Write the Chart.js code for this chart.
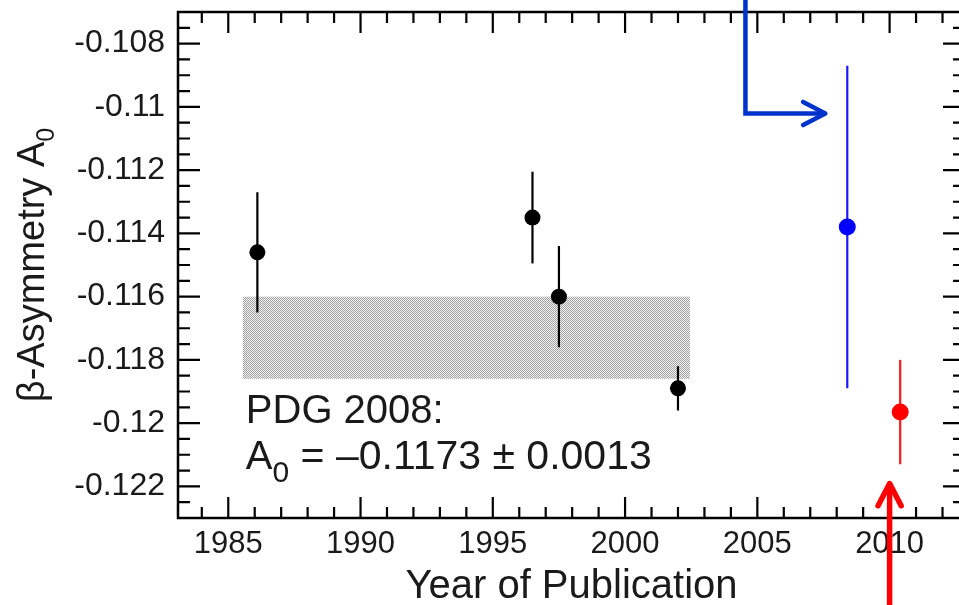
<!DOCTYPE html>
<html><head><meta charset="utf-8">
<script src="https://cdn.jsdelivr.net/npm/chart.js@4/dist/chart.umd.min.js"></script>
<style>
html,body{margin:0;padding:0;background:#fff;overflow:hidden}
#outer{width:959px;height:605px;overflow:hidden;position:relative;background:#fff}
#inner{width:985px;height:605px;position:absolute;left:0;top:0}
</style></head><body>
<div id="outer"><div id="inner"><canvas id="c"></canvas></div></div>
<script>
// ---- data ----
const earlyYears  = [1986.1, 1996.5, 1997.5, 2002.0];
const earlyValues = [-0.1146, -0.1135, -0.1160, -0.1189];
const earlyErrors = [0.0019, 0.00145, 0.0016, 0.0007];
const blueYears  = [2008.4];
const blueValues = [-0.1138];
const blueErrors = [0.0051];
const redYears  = [2010.4];
const redValues = [-0.11965];
const redErrors = [0.00165];
const pdgValue = -0.1173;
const pdgError = 0.0013;
const pdgYears = [1985.55, 2002.45];
const pdgLine1 = 'PDG 2008:';
const pdgLine2 = ' = \u20130.1173 \u00b1 0.0013';
const xTicks = [1985, 1990, 1995, 2000, 2005, 2010];
const xTickLabels = ['1985', '1990', '1995', '2000', '2005', '2010'];
const yTicks = [-0.108, -0.110, -0.112, -0.114, -0.116, -0.118, -0.120, -0.122];
const yTickLabels = ['-0.108', '-0.11', '-0.112', '-0.114', '-0.116', '-0.118', '-0.12', '-0.122'];
const xRange = [1983.1, 2012.85];
const yRange = [-0.123, -0.107];
const xMinorStep = 1;
const yMinorStep = 0.0005;
const xTitle = 'Year of Publication';
const yTitleMain = '\u03b2-Asymmetry A';
const yTitleSub = '0';
const blueArrowX = [2004.55, 2004.55, 2007.57];
const blueArrowY = [-0.1062, -0.11021, -0.11021];
const redArrowX = [2010.0, 2010.0];
const redArrowY = [-0.1262, -0.12191];

const FONT = '"Liberation Sans", Arial, Helvetica, sans-serif';
const TEXT = '#1a1a1a';

function makePattern(ctx) {
  const pc = document.createElement('canvas');
  pc.width = 2; pc.height = 2;
  const g = pc.getContext('2d');
  g.fillStyle = '#f2f2f2'; g.fillRect(0, 0, 2, 2);
  g.fillStyle = '#a2a2a2'; g.fillRect(0, 0, 1, 1); g.fillRect(1, 1, 1, 1);
  return ctx.createPattern(pc, 'repeat');
}

function drawErrorBars(ctx, xs, ys, es, color, xS, yS) {
  ctx.save();
  ctx.strokeStyle = color; ctx.lineWidth = 2.2;
  for (let i = 0; i < xs.length; i++) {
    const px = xS.getPixelForValue(xs[i]);
    ctx.beginPath();
    ctx.moveTo(px, yS.getPixelForValue(ys[i] + es[i]));
    ctx.lineTo(px, yS.getPixelForValue(ys[i] - es[i]));
    ctx.stroke();
  }
  ctx.restore();
}

function drawArrow(ctx, xs, ys, color, width, head, xS, yS) {
  const pts = xs.map((x, i) => [xS.getPixelForValue(x), yS.getPixelForValue(ys[i])]);
  ctx.save();
  ctx.strokeStyle = color; ctx.lineWidth = width; ctx.lineJoin = 'miter'; ctx.lineCap = 'butt';
  ctx.beginPath();
  ctx.moveTo(pts[0][0], pts[0][1]);
  for (let i = 1; i < pts.length; i++) ctx.lineTo(pts[i][0], pts[i][1]);
  ctx.stroke();
  const a = pts[pts.length - 2], b = pts[pts.length - 1];
  const ang = Math.atan2(b[1] - a[1], b[0] - a[0]);
  ctx.lineCap = 'round'; ctx.lineJoin = 'round';
  ctx.beginPath();
  ctx.moveTo(b[0] - head * Math.cos(ang - 0.48), b[1] - head * Math.sin(ang - 0.48));
  ctx.lineTo(b[0], b[1]);
  ctx.lineTo(b[0] - head * Math.cos(ang + 0.48), b[1] - head * Math.sin(ang + 0.48));
  ctx.stroke();
  ctx.restore();
}

const framePlugin = {
  id: 'frame',
  beforeDatasetsDraw(chart) {
    const {ctx, chartArea: ca, scales: {x, y}} = chart;
    ctx.save();
    const x0 = x.getPixelForValue(pdgYears[0]), x1 = x.getPixelForValue(pdgYears[1]);
    const y0 = y.getPixelForValue(pdgValue + pdgError), y1 = y.getPixelForValue(pdgValue - pdgError);
    ctx.fillStyle = makePattern(ctx);
    ctx.fillRect(x0, y0, x1 - x0, y1 - y0);
    ctx.restore();
    drawErrorBars(ctx, earlyYears, earlyValues, earlyErrors, '#000', x, y);
    drawErrorBars(ctx, blueYears, blueValues, blueErrors, '#1a1aff', x, y);
    drawErrorBars(ctx, redYears, redValues, redErrors, '#ff1a1a', x, y);
  },
  afterDraw(chart) {
    const {ctx, chartArea: ca, scales: {x, y}} = chart;
    ctx.save();
    ctx.strokeStyle = '#000';
    ctx.lineWidth = 2.5;
    ctx.strokeRect(ca.left, ca.top, ca.right - ca.left, ca.bottom - ca.top);
    ctx.lineWidth = 2.2;
    ctx.beginPath();
    for (let yr = Math.ceil(xRange[0]); yr <= xRange[1]; yr += xMinorStep) {
      const px = x.getPixelForValue(yr);
      const len = xTicks.includes(yr) ? 21 : 11;
      ctx.moveTo(px, ca.bottom); ctx.lineTo(px, ca.bottom - len);
      ctx.moveTo(px, ca.top); ctx.lineTo(px, ca.top + len);
    }
    const nY = Math.round((yRange[1] - yRange[0]) / yMinorStep);
    for (let k = 0; k <= nY; k++) {
      const v = yRange[0] + k * yMinorStep;
      const py = y.getPixelForValue(v);
      const major = yTicks.some(t => Math.abs(t - v) < 1e-7);
      const len = major ? 22 : 12;
      ctx.moveTo(ca.left, py); ctx.lineTo(ca.left + len, py);
      ctx.moveTo(ca.right, py); ctx.lineTo(ca.right - len, py);
    }
    ctx.stroke();
    ctx.restore();

    drawArrow(ctx, blueArrowX, blueArrowY, '#0033cc', 4.5, 25, x, y);
    drawArrow(ctx, redArrowX, redArrowY, '#ff0000', 5.5, 25, x, y);

    ctx.save();
    ctx.fillStyle = TEXT;
    ctx.textAlign = 'left'; ctx.textBaseline = 'alphabetic';
    const tx = x.getPixelForValue(pdgYears[0]) + 3;
    const bandBottom = y.getPixelForValue(pdgValue - pdgError);
    const b1 = bandBottom + 44, b2 = b1 + 46;
    ctx.font = '40px ' + FONT;
    ctx.fillText(pdgLine1, tx, b1);
    ctx.fillText('A', tx, b2);
    const wA = ctx.measureText('A').width;
    ctx.font = '30px ' + FONT;
    ctx.fillText('0', tx + wA, b2 + 13);
    const w0 = ctx.measureText('0').width;
    ctx.font = '41px ' + FONT;
    ctx.fillText(pdgLine2, tx + wA + w0, b2);

    ctx.font = '40px ' + FONT;
    ctx.textAlign = 'center';
    ctx.fillText(xTitle, (ca.left + ca.right) / 2, 598);

    ctx.translate(44, (ca.top + ca.bottom) / 2);
    ctx.rotate(-Math.PI / 2);
    ctx.textAlign = 'left';
    ctx.font = '38px ' + FONT;
    const wMain = ctx.measureText(yTitleMain).width;
    ctx.font = '25px ' + FONT;
    const wSub = ctx.measureText(yTitleSub).width;
    const start = -(wMain + wSub) / 2;
    ctx.font = '38px ' + FONT;
    ctx.fillText(yTitleMain, start, 0);
    ctx.font = '25px ' + FONT;
    ctx.fillText(yTitleSub, start + wMain, 10);
    ctx.restore();
  }
};

const pts = (xs, ys) => xs.map((v, i) => ({x: v, y: ys[i]}));

new Chart(document.getElementById('c'), {
  type: 'scatter',
  data: {
    datasets: [
      {data: pts(earlyYears, earlyValues), pointRadius: 8, pointBackgroundColor: '#000', pointBorderWidth: 0, pointBorderColor: '#000'},
      {data: pts(blueYears, blueValues), pointRadius: 8.5, pointBackgroundColor: '#0000ff', pointBorderWidth: 0, pointBorderColor: '#0000ff'},
      {data: pts(redYears, redValues), pointRadius: 8.5, pointBackgroundColor: '#ff0000', pointBorderWidth: 0, pointBorderColor: '#ff0000'}
    ]
  },
  options: {
    responsive: true,
    maintainAspectRatio: false,
    animation: false,
    devicePixelRatio: 1,
    layout: {padding: {left: 0, top: 12, right: 20, bottom: 0}},
    plugins: {legend: {display: false}, tooltip: {enabled: false}},
    scales: {
      x: {
        type: 'linear', position: 'bottom', min: xRange[0], max: xRange[1],
        grid: {display: false, drawTicks: false}, border: {display: false},
        afterBuildTicks: s => { s.ticks = xTicks.map(v => ({value: v})); },
        afterFit: s => { s.height = 87; s.paddingLeft = 0; s.paddingRight = 0; s.paddingTop = 0; s.paddingBottom = 0; },
        ticks: {
          autoSkip: false, maxRotation: 0, padding: 8, color: TEXT,
          font: {family: FONT, size: 31},
          callback: (v, i) => xTickLabels[i]
        }
      },
      y: {
        type: 'linear', min: yRange[0], max: yRange[1],
        grid: {display: false, drawTicks: false}, border: {display: false},
        afterBuildTicks: s => { s.ticks = yTicks.map(v => ({value: v})); },
        afterFit: s => { s.width = 178; s.paddingLeft = 0; s.paddingRight = 0; s.paddingTop = 0; s.paddingBottom = 0; },
        ticks: {
          autoSkip: false, padding: 13, color: TEXT,
          font: {family: FONT, size: 32},
          callback: (v, i) => yTickLabels[i]
        }
      }
    }
  },
  plugins: [framePlugin]
});
</script>
</body></html>
